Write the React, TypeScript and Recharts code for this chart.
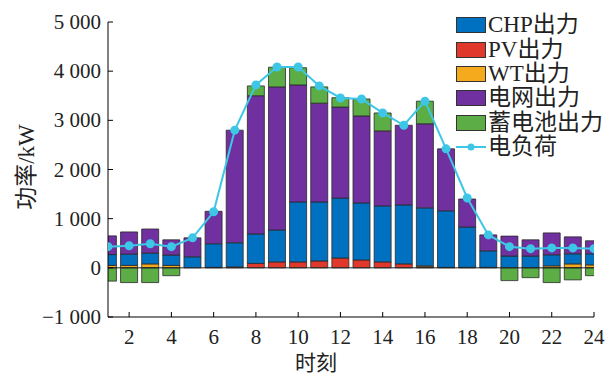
import React from 'react';
import {
  ComposedChart,
  Bar,
  Line,
  XAxis,
  YAxis,
  ReferenceLine,
} from 'recharts';

// 24 h dispatch, kW
const hours = [1, 2, 3, 4, 5, 6, 7, 8, 9, 10, 11, 12, 13, 14, 15, 16, 17, 18, 19, 20, 21, 22, 23, 24];
const chp = [220, 230, 220, 210, 225, 480, 490, 600, 650, 1220, 1200, 1220, 1160, 1140, 1200, 1180, 1150, 820, 335, 240, 240, 225, 205, 225];
const pv = [0, 0, 0, 0, 0, 10, 20, 90, 120, 120, 140, 200, 160, 120, 80, 20, 0, 0, 0, 0, 0, 0, 0, 0];
const wt = [50, 50, 80, 50, 0, 0, 0, 0, 0, 0, 0, 0, 0, 0, 0, 20, 10, 10, 10, 0, 0, 40, 80, 60];
const grid = [380, 450, 490, 310, 385, 660, 2290, 2810, 2910, 2380, 2010, 1850, 1770, 1525, 1620, 1710, 1260, 570, 325, 405, 330, 445, 345, 265];
const battery = [-270, -300, -300, -160, 0, 0, 0, 200, 400, 350, 330, 190, 345, 365, 0, 460, 0, 0, 0, -260, -200, -300, -245, -160];
const load = [430, 450, 490, 430, 610, 1140, 2800, 3720, 4085, 4085, 3700, 3455, 3435, 3150, 2900, 3390, 2420, 1420, 670, 430, 390, 405, 405, 390];

const xTicks = [2, 4, 6, 8, 10, 12, 14, 16, 18, 20, 22, 24];
const yTicks = [-1000, 0, 1000, 2000, 3000, 4000, 5000];

const C_CHP = '#0070c0';
const C_PV = '#e0392b';
const C_WT = '#f5a91c';
const C_GRID = '#7030a0';
const C_BAT = '#5cad45';
const C_LOAD = '#3ec6e6';

const FONT = '"Liberation Serif", "Noto Sans CJK SC", serif';

const data = hours.map((h, i) => ({
  hour: h,
  chp: chp[i],
  pv: pv[i],
  wt: wt[i],
  grid: grid[i],
  battery: battery[i],
  load: load[i],
}));

const legendItems = [
  { name: 'CHP出力', color: C_CHP, kind: 'bar' },
  { name: 'PV出力', color: C_PV, kind: 'bar' },
  { name: 'WT出力', color: C_WT, kind: 'bar' },
  { name: '电网出力', color: C_GRID, kind: 'bar' },
  { name: '蓄电池出力', color: C_BAT, kind: 'bar' },
  { name: '电负荷', color: C_LOAD, kind: 'line' },
];

const fmt = (v: number) => {
  const s = Math.abs(v).toString().replace(/\B(?=(\d{3})+(?!\d))/g, ' ');
  return v < 0 ? '−' + s : s;
};

// ticks point into the plot
const XTick = (props: any) => {
  const { x, y, payload } = props;
  return (
    <g>
      <line x1={x} x2={x} y1={y} y2={y - 5} stroke="#000" />
      <text x={x} y={y + 27} textAnchor="middle" fontSize={21} fontFamily={FONT} fill="#222">
        {payload.value}
      </text>
    </g>
  );
};

const YTick = (props: any) => {
  const { x, y, payload } = props;
  return (
    <g>
      <line x1={x} x2={x + 5} y1={y} y2={y} stroke="#000" />
      <text x={x - 7} y={y + 7} textAnchor="end" fontSize={21} fontFamily={FONT} fill="#222">
        {fmt(payload.value)}
      </text>
    </g>
  );
};

const barStroke = { stroke: '#2a2a2a', strokeWidth: 0.8 };

export default function App() {
  return (
    <div style={{ position: 'absolute', left: 0, top: 0, width: 607, height: 374, background: '#fff' }}>
      <ComposedChart
        width={607}
        height={374}
        data={data}
        stackOffset="sign"
        margin={{ top: 22, right: 13, bottom: 0, left: 0 }}
      >
        <XAxis
          dataKey="hour"
          type="number"
          domain={[1, 24]}
          ticks={xTicks}
          allowDataOverflow
          axisLine={{ stroke: '#000' }}
          tickLine={false}
          tickSize={0}
          tickMargin={0}
          tick={<XTick />}
          height={57}
        />
        <YAxis
          type="number"
          domain={[-1000, 5000]}
          ticks={yTicks}
          allowDataOverflow
          axisLine={{ stroke: '#000' }}
          tickLine={false}
          tickSize={0}
          tickMargin={0}
          tick={<YTick />}
          width={108}
        />
        <Bar dataKey="pv" stackId="s" fill={C_PV} barSize={17} isAnimationActive={false} {...barStroke} />
        <Bar dataKey="wt" stackId="s" fill={C_WT} barSize={17} isAnimationActive={false} {...barStroke} />
        <Bar dataKey="chp" stackId="s" fill={C_CHP} barSize={17} isAnimationActive={false} {...barStroke} />
        <Bar dataKey="grid" stackId="s" fill={C_GRID} barSize={17} isAnimationActive={false} {...barStroke} />
        <Bar dataKey="battery" stackId="s" fill={C_BAT} barSize={17} isAnimationActive={false} {...barStroke} />
        <ReferenceLine y={0} stroke="#222" strokeWidth={1} />
        <Line
          dataKey="load"
          stroke={C_LOAD}
          strokeWidth={2}
          dot={{ r: 3.5, fill: C_LOAD, stroke: C_LOAD }}
          isAnimationActive={false}
        />
        <text
          x={26}
          y={167}
          transform="rotate(-90 26 167)"
          textAnchor="middle"
          dominantBaseline="central"
          fontSize={23}
          fontFamily={FONT}
          fill="#222"
        >
          功率/kW
        </text>
        <text x={316} y={363} textAnchor="middle" dominantBaseline="central" fontSize={21} fontFamily={FONT} fill="#222">
          时刻
        </text>
      </ComposedChart>
      <div style={{ position: 'absolute', left: 456, top: 13, fontFamily: FONT, fontSize: 23, color: '#222' }}>
        {legendItems.map((it) => (
          <div key={it.name} style={{ display: 'flex', alignItems: 'center', height: 24.4, lineHeight: '24px' }}>
            {it.kind === 'bar' ? (
              <span
                style={{
                  display: 'inline-block',
                  width: 28,
                  height: 14,
                  background: it.color,
                  border: '1px solid #333',
                  marginRight: 2,
                }}
              />
            ) : (
              <svg width={30} height={14} style={{ marginRight: 2 }}>
                <line x1={0} x2={30} y1={7} y2={7} stroke={it.color} strokeWidth={2} />
                <circle cx={15} cy={7} r={3.5} fill={it.color} />
              </svg>
            )}
            <span style={{ whiteSpace: 'nowrap' }}>{it.name}</span>
          </div>
        ))}
      </div>
    </div>
  );
}
